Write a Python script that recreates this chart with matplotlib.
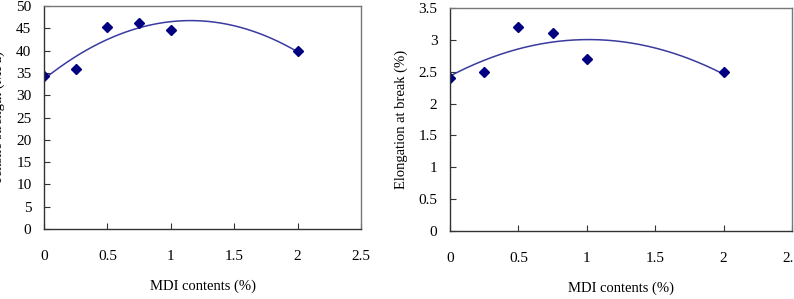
import numpy as np
import matplotlib
matplotlib.use("Agg")
import matplotlib.pyplot as plt

plt.rcParams['font.family'] = ['Liberation Serif', 'DejaVu Serif']

mdi = [0, 0.25, 0.5, 0.75, 1, 2]
tensile = [34.3, 35.8, 45.2, 46.2, 44.7, 39.9]
elong = [2.4, 2.5, 3.2, 3.1, 2.7, 2.5]

W, H = 794, 299
fig = plt.figure(figsize=(W / 100, H / 100), dpi=100)

def axes_px(l, t, r, b):
    return fig.add_axes([l / W, 1 - b / H, (r - l) / W, (b - t) / H])

def style(ax, ymax, ystep, ylabel, ylab_x):
    ax.set_xlim(0, 2.5)
    ax.set_ylim(0, ymax)
    ax.set_xticks(np.arange(0, 2.51, 0.5))
    ax.set_xticklabels(['0', '0.5', '1', '1.5', '2', '2.5'])
    yt = np.arange(0, ymax + 1e-9, ystep)
    ax.set_yticks(yt)
    ax.set_yticklabels([('%g' % v) for v in yt])
    ax.tick_params(direction='in', length=4, width=0.8, colors='#333333', labelcolor='black', labelsize=11)
    ax.tick_params(axis='x', pad=15)
    ax.tick_params(axis='y', pad=9)
    for s in ax.spines.values():
        s.set_color('#333333')
        s.set_linewidth(1.0)
    ax.spines['right'].set_color('#777777')
    ax.spines['top'].set_color('#777777')
    ax.set_xlabel('MDI contents (%)', fontsize=10.5, labelpad=12)
    ax.set_ylabel(ylabel, fontsize=10.5)
    ax.yaxis.set_label_coords(ylab_x, 0.5)

def draw(ax, y):
    coef = np.polyfit(mdi, y, 2)
    xs = np.linspace(0, 2, 200)
    ax.plot(xs, np.polyval(coef, xs), color='#3a3aa0', lw=1.1)
    ax.plot(mdi, y, linestyle='none', marker='D', ms=5.5, color='#000080')

ax1 = axes_px(44, 6, 361, 229)
draw(ax1, tensile)
style(ax1, 50, 5, 'Tensile strength (MPa)', -0.123)

ax2 = axes_px(450, 8, 792, 231)
draw(ax2, elong)
style(ax2, 3.5, 0.5, 'Elongation at break (%)', -0.123)

fig.savefig('out.png', dpi=100)
